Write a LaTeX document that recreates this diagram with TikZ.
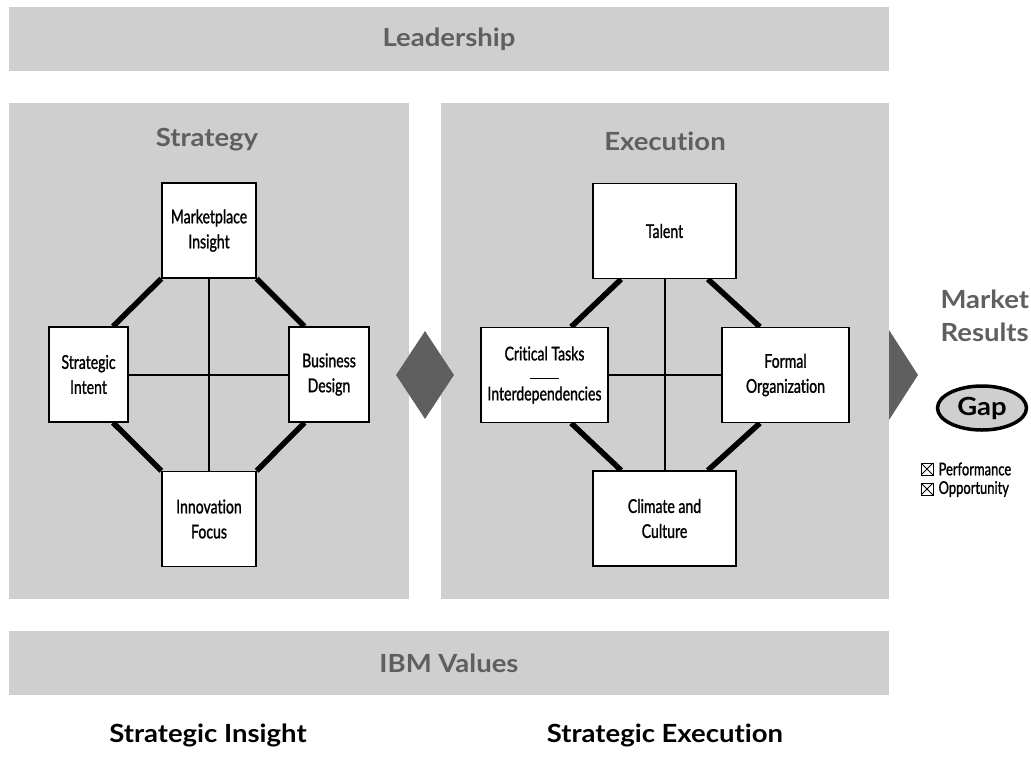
\documentclass[tikz,border=0pt]{standalone}
\usepackage{fontspec}
\defaultfontfeatures{Ligatures={NoCommon}}
\setmainfont{Lato}
\newfontfamily\boxfont[FakeStretch=0.74,FakeBold=1.2]{Lato}
\newfontfamily\headfont[FakeStretch=1.1]{Lato}
\usetikzlibrary{shapes.geometric,positioning}
\definecolor{panelgray}{HTML}{CFCFCF}
\definecolor{inkgray}{HTML}{5F5F5F}
\pgfdeclarelayer{back}
\pgfdeclarelayer{lines}
\pgfsetlayers{back,lines,main}

\begin{document}
\begin{tikzpicture}[x=1pt,y=-1pt,
   head/.style={font=\headfont\bfseries\fontsize{25}{33}\selectfont, text=inkgray, align=left},
   band/.style={head, fill=panelgray, minimum width=880, minimum height=64, inner sep=0},
   panel/.style={fill=panelgray, minimum height=496, inner sep=0},
   factor/.style={draw, line width=1.3pt, fill=white, inner sep=0, align=center,
                  font=\boxfont\fontsize{19}{25}\selectfont, minimum height=95},
   axis/.style={line width=2pt},
   rim/.style={line width=5.5pt},
   xbox/.style={draw, line width=0.8pt, minimum size=12, inner sep=0,
                path picture={\draw[line width=0.8pt]
                   (path picture bounding box.north west) -- (path picture bounding box.south east)
                   (path picture bounding box.south west) -- (path picture bounding box.north east);}},
   legend/.style={font=\boxfont\fontsize{17.5}{19}\selectfont, inner sep=0}]
   \useasboundingbox (0,0) rectangle (1031,756);

   % frame: bands and panels
   \node[band] (lead) at (449,39) {Leadership};
   \node[band] (values) at (449,663) {IBM Values};
   \begin{pgfonlayer}{back}
     \node[panel, minimum width=400] (strat) at (209,351) {};
     \node[panel, minimum width=448] (exec) at (665,351) {};
   \end{pgfonlayer}
   \node[head] at (207,140) {Strategy};
   \node[head] at (665,141) {Execution};

   % strategy
   \node[factor, minimum width=94] (mi) at (209,230.5) {Marketplace\\Insight};
   \node[factor, minimum width=79] (si) at (88.5,374.5) {Strategic\\Intent};
   \node[factor, minimum width=80] (bd) at (329,374.5) {Business\\Design};
   \node[factor, minimum width=94] (inf) at (209,519) {Innovation\\Focus};

   % execution
   \node[factor, minimum width=143] (tal) at (664.5,231) {Talent};
   \node[factor, minimum width=127] (ct) at (544.5,375)
      {Critical Tasks\\[-7pt]\rule{29pt}{0.8pt}\\[-3pt]Interdependencies};
   \node[factor, minimum width=127] (fo) at (785.5,375) {Formal\\Organization};
   \node[factor, minimum width=143] (cc) at (664.5,518.5) {Climate and\\Culture};

   \begin{pgfonlayer}{lines}
     \draw[axis] (mi) -- (inf) (si) -- (bd);
     \draw[rim] (mi.south west) -- (si.63)
                (mi.south east) -- (bd.117)
                (si.-63) -- (inf.north west)
                (bd.-117) -- (inf.north east);
     \draw[axis] (tal) -- (cc) (ct) -- (fo);
     \draw[rim] (tal.228) -- (ct.61.5)
                (tal.312) -- (fo.118.5)
                (ct.-61.5) -- (cc.132)
                (fo.-118.5) -- (cc.48);
   \end{pgfonlayer}

   % flow marks
   \node[diamond, fill=inkgray, minimum width=58, minimum height=88, inner sep=0] (turn) at (425,375) {};
   \fill[inkgray] (889,330) -- (918,375) -- (889,420) -- cycle;

   % results
   \node[head, anchor=west] (market) at (937,316) {Market\\Results};
   \node[ellipse, draw, line width=3.5pt, fill=panelgray, minimum width=89, minimum height=44,
         font=\headfont\bfseries\fontsize{25}{30}\selectfont] (gap) at (982,408) {Gap};
   \node[xbox] (perfbox) at (927,469) {};
   \node[legend, right=5pt of perfbox] (perf) {Performance};
   \node[xbox] (oppbox) at (927,489) {};
   \node[legend, right=5pt of oppbox] (opp) {Opportunity};

   \node[head, text=black] (insight) at (208,735) {Strategic Insight};
   \node[head, text=black] (doing) at (665,735) {Strategic Execution};
\end{tikzpicture}
\end{document}
